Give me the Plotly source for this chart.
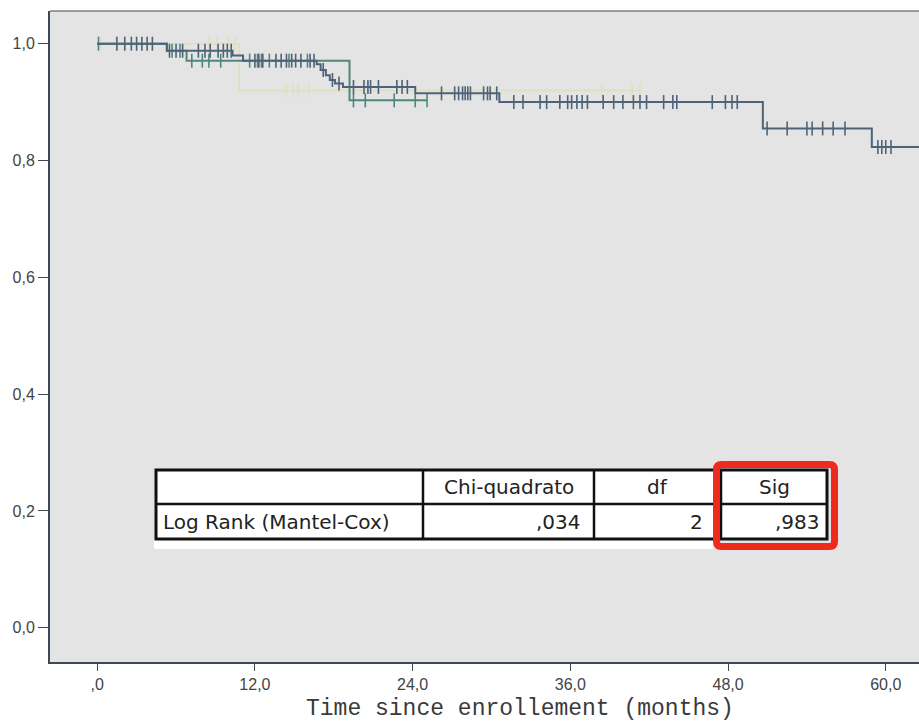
import numpy as np
import plotly.graph_objects as go

# ---------------- data ----------------
# Kaplan-Meier step data (time in months, survival after each step)
dark_times = [0, 5.3, 10.3, 11.1, 16.7, 17.0, 17.4, 17.7, 18.1, 18.7, 24.2, 30.6, 50.65, 58.94, 64.0]
dark_surv = [1.0, 0.988, 0.98, 0.971, 0.965, 0.955, 0.946, 0.938, 0.932, 0.926, 0.915, 0.90, 0.855, 0.823, 0.823]
dark_censor = [1.5, 2.1, 2.6, 3.0, 3.4, 3.8, 4.2, 5.5, 6.0, 6.5, 7.7, 8.2, 8.6, 9.2, 9.6, 9.9, 10.2,
               12.0, 12.3, 12.6, 13.6, 14.0, 14.4, 14.8, 15.1, 15.5, 16.2, 16.5, 17.2, 17.9, 18.4,
               19.5, 20.3, 20.6, 20.8, 21.4, 22.8, 23.2, 23.6, 26.2, 27.2, 27.5, 27.8, 28.0, 28.2,
               28.4, 29.4, 29.7, 29.9, 30.4, 31.7, 32.4, 33.7, 34.2, 35.2, 35.8, 36.1, 36.5, 36.9,
               37.3, 38.5, 39.3, 40.0, 40.8, 41.3, 41.8, 43.1, 43.8, 44.1, 46.8, 47.8, 48.3, 48.7,
               50.97, 52.5, 54.0, 54.4, 55.2, 56.0, 56.9, 59.4, 59.7, 60.0, 60.4]

teal_times = [0, 5.3, 6.8, 19.2, 25.1]
teal_surv = [1.0, 0.988, 0.971, 0.903, 0.903]
teal_censor = [0.1, 5.7, 6.3, 7.2, 8.0, 8.5, 9.4, 11.6, 12.2, 12.5, 13.1, 14.6, 16.0,
               19.5, 20.4, 22.6, 24.2, 25.1]

pale_times = [0, 10.8, 41.3]
pale_surv = [1.0, 0.92, 0.92]
pale_censor = [0.3, 1.4, 2.0, 8.5, 9.1, 10.0, 10.5, 14.4, 14.9, 15.3, 16.1, 38.4, 40.7, 41.3]

x_ticks = [0, 12, 24, 36, 48, 60]
x_ticktext = [",0", "12,0", "24,0", "36,0", "48,0", "60,0"]
y_ticks = [0, 0.2, 0.4, 0.6, 0.8, 1.0]
y_ticktext = ["0,0", "0,2", "0,4", "0,6", "0,8", "1,0"]

table_header = ["", "Chi-quadrato", "df", "Sig"]
table_row = ["Log Rank (Mantel-Cox)", ",034", "2", ",983"]

x_title = "Time since enrollement (months)"

# ---------------- figure ----------------
W, H = 919, 728
ML, MR, MT, MB = 50, 0, 11, 66

fig = go.Figure()


def km_value(times, surv, t):
    idx = np.searchsorted(np.array(times), np.array(t), side="right") - 1
    return np.array(surv)[idx]


groups = [
    (pale_times, pale_surv, pale_censor, "#e0dfc4"),
    (teal_times, teal_surv, teal_censor, "#4f877c"),
    (dark_times, dark_surv, dark_censor, "#4e6378"),
]

for times, surv, cens, col in groups:
    fig.add_trace(go.Scatter(x=times, y=surv, mode="lines", line=dict(color=col, width=2, shape="hv"),
                             hoverinfo="skip", showlegend=False))
    fig.add_trace(go.Scatter(x=cens, y=km_value(times, surv, cens), mode="markers",
                             marker=dict(symbol="line-ns", size=10, line=dict(color=col, width=1.6)),
                             hoverinfo="skip", showlegend=False))

axis_col = "#3d4955"
tick_font = dict(family="Liberation Sans Narrow, Arial Narrow, Liberation Sans, Arial", size=16, color="#444")

fig.update_layout(
    width=W, height=H,
    margin=dict(l=ML, r=MR, t=MT, b=MB),
    paper_bgcolor="white",
    plot_bgcolor="#e4e4e4",
    xaxis=dict(range=[-3.59, 62.53], tickvals=x_ticks, ticktext=x_ticktext, ticks="outside",
               ticklen=7, tickwidth=1.3, tickcolor=axis_col, showline=True, linecolor=axis_col,
               linewidth=2, showgrid=False, zeroline=False, tickfont=tick_font),
    yaxis=dict(range=[-0.0586, 1.056], tickvals=y_ticks, ticktext=y_ticktext, ticks="outside",
               ticklen=10, tickwidth=1.3, tickcolor=axis_col, showline=True, linecolor=axis_col,
               linewidth=2, showgrid=False, zeroline=False, tickfont=tick_font),
)

# plot-area pixel -> paper coordinates
PW = W - ML - MR
PH = H - MT - MB


def px(x):
    return (x - ML) / PW


def py(y):
    return (H - MB - y) / PH


shapes = []
# top border
shapes.append(dict(type="line", xref="paper", yref="paper", x0=0, x1=1, y0=1, y1=1,
                   line=dict(color=axis_col, width=1.2)))

# table geometry (pixels)
tl, tr = 156, 827
c1, c2, c3 = 423, 594, 721
ttop, tmid, tbot = 470, 504, 539

# white strip below table (cut footnote)
shapes.append(dict(type="rect", xref="paper", yref="paper", x0=px(tl - 2), x1=px(713), y0=py(tbot), y1=py(549),
                   fillcolor="white", line=dict(width=0)))
# table background
shapes.append(dict(type="rect", xref="paper", yref="paper", x0=px(tl), x1=px(tr), y0=py(tbot), y1=py(ttop),
                   fillcolor="white", line=dict(color="#111", width=3)))
for yy in [tmid]:
    shapes.append(dict(type="line", xref="paper", yref="paper", x0=px(tl), x1=px(tr), y0=py(yy), y1=py(yy),
                       line=dict(color="#111", width=2.5)))
for xx in [c1, c2, c3]:
    shapes.append(dict(type="line", xref="paper", yref="paper", x0=px(xx), x1=px(xx), y0=py(ttop), y1=py(tbot),
                       line=dict(color="#111", width=2.5)))

# red highlight box with rounded corners
rl, rr, rt, rb, r = 716.5, 834.5, 464.5, 546.5, 5


def P(x, y):
    return f"{px(x):.5f},{py(y):.5f}"


path = (f"M {P(rl + r, rt)} L {P(rr - r, rt)} Q {P(rr, rt)} {P(rr, rt + r)} "
        f"L {P(rr, rb - r)} Q {P(rr, rb)} {P(rr - r, rb)} "
        f"L {P(rl + r, rb)} Q {P(rl, rb)} {P(rl, rb - r)} "
        f"L {P(rl, rt + r)} Q {P(rl, rt)} {P(rl + r, rt)} Z")
shapes.append(dict(type="path", xref="paper", yref="paper", path=path,
                   line=dict(color="#ee2a1c", width=7)))

fig.update_layout(shapes=shapes)

tfont = dict(family="DejaVu Sans", size=20, color="#222")
ann = []
hy = py((ttop + tmid) / 2)
ry = py((tmid + tbot) / 2)
centers = [None, (c1 + c2) / 2, (c2 + c3) / 2, (c3 + tr) / 2]
for i, txt in enumerate(table_header):
    if txt:
        ann.append(dict(text=txt, x=px(centers[i]), y=hy, xref="paper", yref="paper",
                        xanchor="center", yanchor="middle", showarrow=False, font=tfont))
ann.append(dict(text=table_row[0], x=px(tl + 5), y=ry, xref="paper", yref="paper",
                xanchor="left", yanchor="middle", showarrow=False, font=tfont))
for txt, right in zip(table_row[1:], [583, 705, 822]):
    ann.append(dict(text=txt, x=px(right), y=ry, xref="paper", yref="paper",
                    xanchor="right", yanchor="middle", showarrow=False, font=tfont))

# x-axis title
ann.append(dict(text=x_title, x=px(520), y=py(709), xref="paper", yref="paper",
                xanchor="center", yanchor="middle", showarrow=False,
                font=dict(family="Liberation Mono, Courier New, monospace", size=23, color="#3a3a3a")))

fig.update_layout(annotations=ann)

fig.write_html("out.html", config={"displayModeBar": False},
               post_script="document.body.style.margin='0';document.body.style.overflow='hidden';")
